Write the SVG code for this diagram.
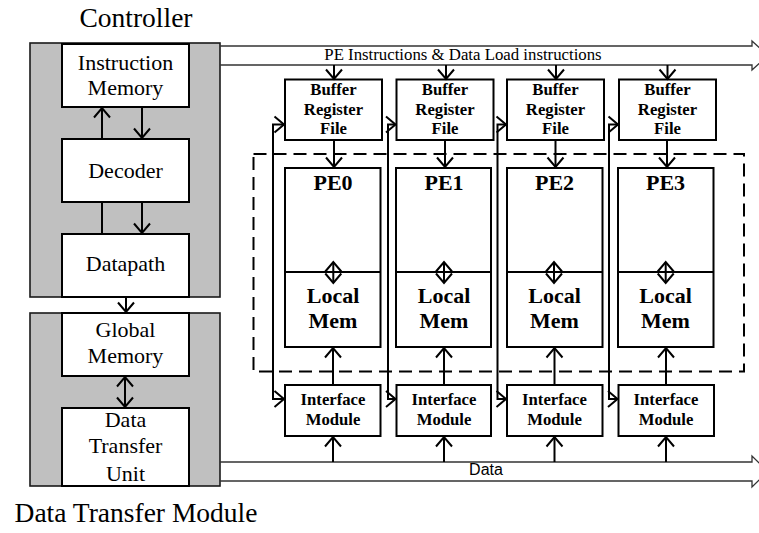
<svg xmlns="http://www.w3.org/2000/svg" width="759" height="533" viewBox="0 0 759 533">
<style>
.bg{fill:#fff}
.gray{fill:#c0c0c0;stroke:#1a1a1a;stroke-width:1.6}
.box{fill:#fff;stroke:#000;stroke-width:2}
.ln{fill:none;stroke:#000;stroke-width:2}
.bus{fill:none;stroke:#333;stroke-width:1.3}
.dash{fill:none;stroke:#000;stroke-width:2;stroke-dasharray:13 7}
.t{font-family:"Liberation Serif","Times New Roman",serif;fill:#000;text-anchor:middle}
.r22{font-size:22px}
.big{font-size:27.5px}
.b{font-weight:bold}
.b16{font-size:16.7px;font-weight:bold}
.b22{font-size:22px;font-weight:bold}
.s{font-family:"Liberation Sans",Arial,sans-serif;font-size:16px;fill:#000;text-anchor:middle}
</style>
<defs>
<marker id="ch" viewBox="-11 -10 14 20" refX="0" refY="0" markerWidth="14" markerHeight="20" markerUnits="userSpaceOnUse" orient="auto-start-reverse">
<path d="M-9.5,-8 L0,0 L-9.5,8" fill="none" stroke="#000" stroke-width="2"/>
</marker>
</defs>
<rect class="bg" x="0" y="0" width="759" height="533"/>

<g id="controller">
<rect class="gray" x="30" y="43" width="190" height="254"/>
<text class="t big" x="136" y="27">Controller</text>
</g>
<g id="instruction-memory">
<rect class="box" x="62" y="44" width="127" height="63"/>
<text class="t r22" x="125.5" y="69.5">Instruction</text>
<text class="t r22" x="125.5" y="95">Memory</text>
</g>
<g id="decoder">
<rect class="box" x="62" y="139" width="127" height="63"/>
<text class="t r22" x="125.5" y="178">Decoder</text>
</g>
<g id="datapath">
<rect class="box" x="62" y="234" width="127" height="63"/>
<text class="t r22" x="125.5" y="271">Datapath</text>
</g>

<g id="data-transfer-module">
<rect class="gray" x="30" y="313" width="190" height="173"/>
<text class="t big" x="136" y="522">Data Transfer Module</text>
</g>
<g id="global-memory">
<rect class="box" x="62" y="313" width="127" height="63"/>
<text class="t r22" x="125.5" y="336.5">Global</text>
<text class="t r22" x="125.5" y="363">Memory</text>
</g>
<g id="data-transfer-unit">
<rect class="box" x="62" y="408" width="127" height="78"/>
<text class="t r22" x="125.5" y="427">Data</text>
<text class="t r22" x="125.5" y="453">Transfer</text>
<text class="t r22" x="125.5" y="480.5">Unit</text>
</g>

<g id="pe-array">
<rect class="dash" x="253.5" y="154" width="490.5" height="217.5"/>
</g>

<g id="buf0"><rect class="box" x="285" y="79.5" width="97" height="60.5"/>
<text class="t b16" x="333.5" y="95">Buffer</text><text class="t b16" x="333.5" y="115">Register</text><text class="t b16" x="333.5" y="134">File</text></g>
<g id="buf1"><rect class="box" x="396.5" y="79.5" width="97" height="60.5"/>
<text class="t b16" x="445" y="95">Buffer</text><text class="t b16" x="445" y="115">Register</text><text class="t b16" x="445" y="134">File</text></g>
<g id="buf2"><rect class="box" x="507" y="79.5" width="97" height="60.5"/>
<text class="t b16" x="555.5" y="95">Buffer</text><text class="t b16" x="555.5" y="115">Register</text><text class="t b16" x="555.5" y="134">File</text></g>
<g id="buf3"><rect class="box" x="619" y="79.5" width="97" height="60.5"/>
<text class="t b16" x="667.5" y="95">Buffer</text><text class="t b16" x="667.5" y="115">Register</text><text class="t b16" x="667.5" y="134">File</text></g>

<g id="pe0"><rect class="box" x="285" y="168" width="95.5" height="179"/><line class="ln" x1="285" y1="272" x2="380.5" y2="272"/>
<text class="t b22" x="333" y="190">PE0</text><text class="t b22" x="333" y="303">Local</text><text class="t b22" x="333" y="328">Mem</text></g>
<g id="pe1"><rect class="box" x="396" y="168" width="95" height="179"/><line class="ln" x1="396" y1="272" x2="491" y2="272"/>
<text class="t b22" x="444" y="190">PE1</text><text class="t b22" x="444" y="303">Local</text><text class="t b22" x="444" y="328">Mem</text></g>
<g id="pe2"><rect class="box" x="507" y="168" width="95.5" height="179"/><line class="ln" x1="507" y1="272" x2="602.5" y2="272"/>
<text class="t b22" x="554.5" y="190">PE2</text><text class="t b22" x="554.5" y="303">Local</text><text class="t b22" x="554.5" y="328">Mem</text></g>
<g id="pe3"><rect class="box" x="618" y="168" width="95.5" height="179"/><line class="ln" x1="618" y1="272" x2="713.5" y2="272"/>
<text class="t b22" x="665.5" y="190">PE3</text><text class="t b22" x="665.5" y="303">Local</text><text class="t b22" x="665.5" y="328">Mem</text></g>

<g id="if0"><rect class="box" x="285" y="385" width="95.5" height="51"/>
<text class="t b16" x="333" y="405">Interface</text><text class="t b16" x="333" y="425">Module</text></g>
<g id="if1"><rect class="box" x="396.5" y="385" width="94.5" height="51"/>
<text class="t b16" x="444" y="405">Interface</text><text class="t b16" x="444" y="425">Module</text></g>
<g id="if2"><rect class="box" x="507" y="385" width="95.5" height="51"/>
<text class="t b16" x="554.5" y="405">Interface</text><text class="t b16" x="554.5" y="425">Module</text></g>
<g id="if3"><rect class="box" x="618.5" y="385" width="95.5" height="51"/>
<text class="t b16" x="666" y="405">Interface</text><text class="t b16" x="666" y="425">Module</text></g>

<g id="connectors">
<!-- controller internal -->
<line class="ln" x1="102" y1="139" x2="102" y2="108" marker-end="url(#ch)"/>
<line class="ln" x1="142" y1="107" x2="142" y2="138" marker-end="url(#ch)"/>
<line class="ln" x1="102" y1="202" x2="102" y2="234"/>
<line class="ln" x1="142" y1="202" x2="142" y2="233" marker-end="url(#ch)"/>
<line class="ln" x1="126" y1="297" x2="126" y2="312" marker-end="url(#ch)"/>
<line class="ln" x1="125" y1="377" x2="125" y2="407" marker-start="url(#ch)" marker-end="url(#ch)"/>

<!-- buses -->
<path class="bus" d="M220,46 H752 V41 L768,55.5 L752,70 V65 H220"/>
<text class="t" style="font-size:16.8px" x="463" y="60">PE Instructions &amp; Data Load instructions</text>
<path class="bus" d="M220,462 H752 V456 L768,471.5 L752,487 V481 H220"/>
<text class="s" x="486" y="475">Data</text>

<!-- bus to buffers -->
<line class="ln" x1="334" y1="65" x2="334" y2="79" marker-end="url(#ch)"/>
<line class="ln" x1="446" y1="65" x2="446" y2="79" marker-end="url(#ch)"/>
<line class="ln" x1="556" y1="65" x2="556" y2="79" marker-end="url(#ch)"/>
<line class="ln" x1="667.5" y1="65" x2="667.5" y2="79" marker-end="url(#ch)"/>

<!-- buffer to PE -->
<line class="ln" x1="334" y1="140" x2="334" y2="167" marker-end="url(#ch)"/>
<line class="ln" x1="445" y1="140" x2="445" y2="167" marker-end="url(#ch)"/>
<line class="ln" x1="555.5" y1="140" x2="555.5" y2="167" marker-end="url(#ch)"/>
<line class="ln" x1="667" y1="140" x2="667" y2="167" marker-end="url(#ch)"/>

<!-- PE <-> Local Mem -->
<line class="ln" x1="333.3" y1="262" x2="333.3" y2="283" marker-start="url(#ch)" marker-end="url(#ch)"/>
<line class="ln" x1="444" y1="262" x2="444" y2="283" marker-start="url(#ch)" marker-end="url(#ch)"/>
<line class="ln" x1="554" y1="262" x2="554" y2="283" marker-start="url(#ch)" marker-end="url(#ch)"/>
<line class="ln" x1="665.7" y1="262" x2="665.7" y2="283" marker-start="url(#ch)" marker-end="url(#ch)"/>

<!-- interface to PE -->
<line class="ln" x1="333" y1="385" x2="333" y2="348" marker-end="url(#ch)"/>
<line class="ln" x1="444" y1="385" x2="444" y2="348" marker-end="url(#ch)"/>
<line class="ln" x1="554.5" y1="385" x2="554.5" y2="348" marker-end="url(#ch)"/>
<line class="ln" x1="666" y1="385" x2="666" y2="348" marker-end="url(#ch)"/>

<!-- data to interface -->
<line class="ln" x1="333" y1="462" x2="333" y2="437" marker-end="url(#ch)"/>
<line class="ln" x1="444" y1="462" x2="444" y2="437" marker-end="url(#ch)"/>
<line class="ln" x1="554.5" y1="462" x2="554.5" y2="437" marker-end="url(#ch)"/>
<line class="ln" x1="666" y1="462" x2="666" y2="437" marker-end="url(#ch)"/>

<!-- loops feeding buffers and interfaces -->
<path class="ln" d="M284,124.5 H273 V399 H284" marker-start="url(#ch)" marker-end="url(#ch)"/>
<path class="ln" d="M395.5,124.5 H388 V399 H395.5" marker-start="url(#ch)" marker-end="url(#ch)"/>
<path class="ln" d="M506,124.5 H497.5 V399 H506" marker-start="url(#ch)" marker-end="url(#ch)"/>
<path class="ln" d="M618,124.5 H609 V399 H617.5" marker-start="url(#ch)" marker-end="url(#ch)"/>
</g>
</svg>
